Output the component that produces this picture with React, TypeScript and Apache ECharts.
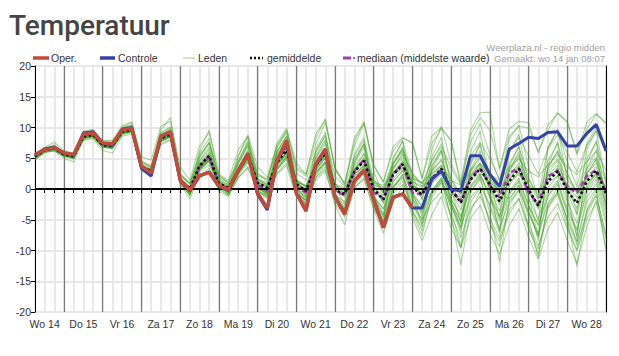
import React, { useEffect, useRef } from "react";
import * as echarts from "echarts";

// Day labels (label sits at 12:00 of each day); points every 6 hours from Wo 14 06:00
const days = ["Wo 14", "Do 15", "Vr 16", "Za 17", "Zo 18", "Ma 19", "Di 20", "Wo 21", "Do 22", "Vr 23", "Za 24", "Zo 25", "Ma 26", "Di 27", "Wo 28", "Do 29"];
const hours = ["06:00", "12:00", "18:00", "00:00"];
const yTicks = [-20, 20, 5]; // min, max, interval

const oper = [5.6, 6.4, 6.7, 5.9, 5.6, 8.9, 9.1, 7.5, 7.3, 9.6, 9.9, 3.7, 2.6, 8.6, 9.3, 1.5, -0.2, 2.2, 2.7, 0.5, -0.1, 3.0, 5.8, -0.7, -3.1, 4.6, 7.9, -0.6, -3.6, 4.0, 6.5, -1.3, -4.1, 1.3, 3.0, -1.8, -6.3, -1.4, -0.8, -3.1];

const controle = [5.5, 6.5, 6.8, 5.8, 5.5, 9.1, 9.3, 7.4, 7.1, 9.7, 10.0, 3.4, 2.1, 8.4, 9.2, 1.4, -0.3, 2.1, 2.8, 0.4, -0.2, 3.0, 5.7, -0.9, -3.4, 4.5, 7.6, -0.7, -3.5, 3.8, 6.3, -1.2, -4.0, 1.4, 3.0, -1.7, -6.2, -1.3, -0.8, -3.1, -3.1, 1.6, 2.9, -0.1, -0.3, 5.4, 5.4, 2.4, 0.4, 6.5, 7.4, 8.4, 8.2, 9.2, 9.3, 7.0, 7.0, 9.0, 10.5, 6.2];

const gemiddelde = [5.3, 6.3, 6.6, 5.6, 5.3, 8.5, 8.8, 7.1, 7.0, 9.3, 9.6, 3.6, 2.9, 8.2, 8.9, 1.5, 0.0, 3.8, 5.4, 0.9, 0.2, 3.0, 5.6, 1.0, 0.2, 4.3, 6.3, 0.8, -0.3, 3.8, 5.8, -0.2, -0.8, 2.8, 4.6, 0.0, -1.7, 2.3, 4.0, 0.2, -0.9, 1.6, 3.3, -0.1, -2.2, 1.5, 3.3, 0.7, -2.0, 1.2, 3.3, -0.1, -2.7, 1.2, 2.9, -0.3, -2.3, 1.2, 3.0, -0.8];

const mediaan = [5.4, 6.4, 6.7, 5.7, 5.4, 8.7, 9.0, 7.3, 7.1, 9.5, 9.8, 3.4, 2.5, 8.4, 9.0, 1.4, -0.1, 3.6, 5.3, 0.8, 0.0, 3.0, 5.7, 0.6, -0.3, 4.8, 6.6, 0.5, -0.6, 4.0, 6.1, -0.4, -1.0, 2.9, 4.8, -0.6, -1.5, 2.4, 4.1, -0.6, -0.9, 1.8, 3.1, -0.1, -2.0, 1.8, 3.3, 0.7, -1.4, 2.6, 3.4, -0.6, -2.4, 2.1, 2.9, 0.3, -0.6, 2.1, 3.1, -0.4];

const leden = [
  [5.5, 6.6, 7.0, 5.9, 5.6, 8.9, 9.4, 7.6, 7.5, 9.9, 10.4, 4.3, 3.5, 9.2, 10.1, 2.2, 0.9, 5.5, 7.4, 2.1, 1.2, 4.6, 7.8, 2.4, 1.6, 6.8, 9.6, 3.3, 2.1, 7.2, 10.8, 3.4, 0.9, 7.0, 10.6, 3.8, 1.2, 6.2, 8.2, 7.6, 1.6, 7.4, 9.8, 7.9, 1.2, 9.6, 12.4, 12.5, 3.2, 9.8, 11.0, 10.8, 5.8, 10.4, 12.3, 10.8, 5.6, 9.8, 12.1, 10.8],
  [4.7, 5.9, 6.2, 5.0, 4.4, 7.9, 8.2, 6.3, 5.8, 8.6, 8.9, 2.9, 2.2, 7.2, 7.9, 0.7, -1.6, 2.1, 3.4, -0.4, -1.2, 1.8, 3.6, -0.3, -1.0, 2.6, 4.2, -1.2, -2.4, 1.9, 3.2, -2.6, -5.8, 0.2, 1.8, -3.4, -7.2, -2.1, 0.4, -4.6, -8.4, -4.2, -1.2, -6.4, -9.6, -4.8, -2.6, -7.2, -10.6, -6.0, -3.2, -7.9, -11.4, -6.5, -3.8, -8.4, -12.1, -6.2, -1.8, -9.6],
  [5.1, 6.1, 6.4, 5.3, 4.9, 8.2, 8.6, 6.8, 6.6, 9.0, 9.3, 3.2, 2.5, 7.8, 8.5, 1.0, -1.1, 3.1, 4.6, 0.3, -0.6, 2.2, 4.4, -0.2, -1.3, 3.2, 5.0, -0.6, -2.3, 2.4, 4.4, -1.8, -4.6, 0.9, 3.0, -2.9, -6.3, 0.1, 2.4, -3.4, -6.8, -1.4, 1.2, -4.6, -12.3, -3.6, -0.4, -5.6, -8.4, -4.1, -1.5, -6.6, -9.8, -2.9, -0.4, -5.2, -9.1, -4.1, -1.1, -7.4],
  [5.4, 6.5, 7.2, 5.8, 5.4, 9.0, 9.6, 7.4, 7.2, 10.0, 10.8, 4.6, 3.6, 9.6, 11.6, 2.6, 0.8, 6.2, 9.6, 2.3, 0.9, 5.4, 8.8, 3.6, 1.9, 7.4, 9.9, 4.2, 2.4, 8.2, 11.4, 3.4, 0.6, 7.8, 10.9, 2.8, -0.9, 5.1, 7.8, 2.4, -1.8, 6.4, 10.2, 4.1, 0.8, 7.6, 10.6, 5.6, 1.2, 8.1, 10.4, 3.6, -1.4, 6.8, 9.6, 4.4, 0.4, 7.2, 10.1, 6.1],
  [5.2, 6.2, 6.5, 5.5, 5.2, 8.4, 8.7, 7.0, 6.9, 9.2, 9.5, 3.4, 2.7, 8.0, 8.6, 1.3, -0.3, 3.4, 4.9, 0.6, -0.3, 2.6, 5.0, 0.6, -0.4, 3.8, 5.8, 0.3, -1.1, 3.1, 5.0, -0.9, -2.1, 2.0, 3.8, -1.1, -3.3, 1.1, 3.1, -0.9, -2.8, 0.9, 2.4, -1.6, -4.4, 0.1, 2.1, -1.4, -5.2, -0.8, 1.4, -2.6, -5.9, -1.2, 0.8, -3.6, -6.8, -0.6, 1.6, -4.1],
  [5.4, 6.4, 6.8, 5.7, 5.5, 8.7, 9.0, 7.2, 7.2, 9.5, 9.8, 3.8, 3.1, 8.5, 9.2, 1.7, 0.3, 4.3, 6.0, 1.3, 0.6, 3.5, 6.1, 1.4, 0.7, 4.9, 6.9, 1.4, 0.4, 4.6, 6.7, 0.6, 0.0, 3.8, 5.6, 0.9, -0.6, 3.3, 5.1, 1.2, 0.1, 3.0, 4.6, 0.8, -0.8, 3.1, 5.0, 2.2, -0.4, 2.9, 5.2, 1.6, -1.0, 3.2, 4.9, 1.6, -0.4, 3.4, 5.2, 1.2],
  [5.0, 6.1, 6.9, 5.6, 5.1, 8.6, 8.9, 7.3, 6.7, 9.1, 9.4, 3.5, 3.0, 8.1, 8.7, 1.4, -0.4, 4.1, 5.8, 1.0, 0.2, 2.8, 5.2, 0.4, -0.7, 4.9, 7.3, 1.6, 0.4, 2.6, 4.3, -1.3, -3.1, 3.2, 5.9, 1.4, 0.3, 4.2, 6.6, 2.4, 0.9, 1.1, 2.8, -2.3, -5.4, 2.8, 5.4, 1.8, -0.6, -1.6, 0.6, -3.9, -7.6, 3.6, 6.1, 2.6, -0.8, 0.2, 2.6, -2.3],
  [5.5, 6.5, 6.6, 5.7, 5.4, 8.8, 9.2, 7.5, 7.4, 9.7, 10.0, 3.9, 3.1, 8.7, 9.5, 1.8, 0.4, 3.6, 5.2, 0.4, -0.4, 3.4, 6.4, 1.6, 0.8, 5.4, 8.0, 1.3, -0.6, 4.9, 7.4, 0.4, -1.4, 4.1, 6.8, 0.6, -2.4, 2.4, 4.4, 0.8, -0.9, 3.9, 6.3, 1.6, -1.4, 2.1, 4.0, -0.1, -3.6, 1.6, 3.9, -0.4, -3.3, 2.6, 4.6, 0.1, -3.2, 2.4, 4.8, -0.6],
  [4.8, 6.0, 6.3, 5.4, 5.0, 8.2, 8.5, 6.9, 6.8, 9.1, 9.3, 3.4, 2.8, 7.8, 8.4, 1.2, -0.6, 3.0, 4.4, 0.4, -0.2, 2.4, 4.6, 0.1, -0.8, 3.1, 4.9, -0.6, -1.8, 2.2, 4.0, -1.6, -3.4, 1.2, 3.0, -1.9, -4.6, 0.4, 2.0, -1.6, -3.9, -0.6, 1.0, -2.9, -6.1, -1.4, 0.4, -2.6, -6.4, -2.1, -0.2, -3.9, -7.2, -2.4, -0.6, -4.8, -8.6, -2.2, 0.1, -5.6],
  [5.6, 6.8, 7.6, 6.2, 5.8, 9.4, 9.7, 7.9, 7.9, 10.3, 10.9, 5.2, 4.7, 10.2, 11.0, 3.6, 1.4, 7.0, 9.2, 2.4, 1.4, 6.4, 8.6, 2.6, 1.2, 7.2, 9.4, 3.6, 2.4, 8.9, 11.3, 3.1, 0.9, 8.3, 10.9, 3.9, 1.1, 6.9, 8.4, 7.4, 1.8, 8.6, 10.0, 7.8, 0.6, 8.8, 11.6, 9.6, 3.4, 8.6, 10.2, 9.9, 6.1, 9.6, 12.4, 11.0, 5.9, 10.8, 12.3, 10.6],
  [5.0, 6.0, 6.2, 5.3, 5.2, 8.0, 8.3, 6.7, 6.6, 8.8, 9.2, 3.0, 2.3, 7.4, 8.1, 1.0, -1.0, 2.8, 3.9, -0.1, -0.9, 1.9, 3.4, -0.4, -1.4, 2.4, 3.8, -1.2, -2.6, 1.4, 2.9, -2.4, -4.3, 0.2, 1.6, -3.2, -5.6, -0.8, 0.8, -2.6, -4.9, -2.1, -0.4, -4.4, -7.9, -3.2, -1.2, -4.8, -7.9, -3.4, -1.6, -5.9, -9.2, -4.6, -2.4, -6.5, -10.1, -4.9, -2.2, -8.1],
  [5.3, 6.3, 6.7, 5.6, 5.3, 8.6, 8.9, 7.1, 7.1, 9.3, 9.7, 3.7, 2.9, 8.3, 9.0, 1.6, 0.1, 3.9, 5.6, 1.1, 0.3, 3.3, 5.9, 1.2, 0.4, 4.6, 6.6, 1.0, -0.1, 4.1, 6.1, 0.2, -0.6, 3.2, 5.1, 0.4, -1.1, 2.7, 4.6, 0.6, -0.4, 2.4, 3.9, 0.2, -1.6, 2.3, 4.2, 1.4, -1.1, 2.1, 4.3, 0.8, -1.7, 2.2, 3.9, 0.6, -1.4, 2.5, 4.2, 0.1],
  [5.1, 6.3, 6.6, 5.5, 5.0, 8.6, 8.9, 7.0, 6.8, 9.4, 9.7, 3.5, 2.7, 8.3, 9.2, 1.3, -0.7, 4.6, 6.8, 0.8, -0.9, 4.1, 6.9, 0.4, -1.2, 5.6, 7.9, 0.1, -2.4, 5.1, 7.8, -1.1, -3.6, 4.4, 7.2, -2.2, -5.4, 3.4, 5.9, -1.9, -5.1, 3.6, 6.4, -2.6, -7.2, 3.1, 6.2, -1.2, -6.6, 2.9, 6.1, -2.6, -8.4, 3.4, 6.3, -1.9, -7.6, 3.2, 6.4, -3.1],
  [5.4, 6.4, 6.6, 5.8, 5.7, 8.6, 8.8, 7.2, 7.3, 9.4, 9.6, 3.8, 3.2, 8.4, 8.8, 1.6, 0.2, 3.6, 5.1, 1.3, 0.8, 3.1, 5.3, 1.6, 1.0, 4.0, 5.6, 1.2, 0.6, 3.3, 5.0, 0.4, -0.2, 2.4, 3.8, 0.6, 0.2, 2.4, 3.4, 1.2, 0.4, 1.6, 2.6, 0.4, -0.6, 1.4, 2.6, 1.1, -0.2, 1.2, 2.4, 0.8, -0.4, 1.0, 2.1, 0.6, -0.2, 1.2, 2.3, 0.4],
  [5.2, 6.2, 6.4, 5.6, 5.3, 8.3, 8.6, 7.0, 6.9, 9.2, 9.4, 3.5, 2.8, 8.0, 8.7, 1.4, -0.2, 3.3, 4.8, 0.7, -0.1, 2.9, 5.2, 0.8, -0.2, 3.9, 6.0, 0.1, -1.4, 3.0, 5.1, -1.4, -3.9, 1.6, 3.6, -2.4, -6.1, -0.4, 1.4, -3.9, -7.6, -0.9, 1.6, -4.9, -9.6, -2.2, 0.2, -5.6, -9.4, -2.6, -0.1, -6.2, -10.6, -3.1, -0.8, -6.1, -9.9, -3.6, -0.9, -7.6],
  [5.3, 6.4, 6.7, 5.7, 5.4, 8.5, 8.9, 7.2, 7.0, 9.4, 9.8, 3.7, 3.0, 8.3, 9.0, 1.6, 0.2, 3.9, 5.3, 1.1, 0.4, 3.3, 5.4, 1.1, 0.3, 4.2, 6.0, 0.9, 0.0, 3.7, 5.5, 0.4, -0.4, 3.1, 5.0, 1.1, -0.1, 3.4, 5.6, 2.6, 0.4, 4.6, 6.9, 3.4, 0.6, 5.4, 7.6, 4.9, 1.6, 6.1, 8.4, 5.4, 2.4, 6.6, 8.8, 5.9, 2.8, 7.1, 9.4, 6.2],
  [5.7, 6.7, 7.1, 6.0, 5.6, 9.0, 9.4, 7.6, 7.6, 9.9, 10.4, 4.4, 3.8, 9.0, 10.0, 2.4, 0.9, 5.1, 7.6, 1.8, 0.6, 4.2, 7.4, 1.8, 0.5, 6.1, 8.6, 1.6, 0.1, 5.9, 8.6, 0.9, -1.1, 4.9, 7.4, 0.4, -2.2, 4.1, 6.4, 1.4, -1.6, 2.9, 4.9, -0.4, -3.4, 1.9, 4.1, 0.2, -2.6, 3.4, 5.6, 0.6, -3.1, 1.6, 3.4, -0.6, -4.2, 2.6, 4.9, -1.4],
  [4.9, 6.1, 6.4, 5.4, 5.1, 8.3, 8.6, 6.9, 6.7, 9.0, 9.3, 3.3, 2.6, 7.7, 8.4, 1.1, -0.9, 3.3, 5.6, 0.1, -1.1, 2.4, 4.8, -0.2, -1.6, 3.2, 5.4, -0.9, -2.6, 1.8, 3.6, -1.6, -4.1, 0.6, 2.6, -1.3, -3.2, 1.6, 3.6, -0.4, -3.0, -0.4, 1.4, -2.4, -5.1, 0.6, 2.4, -1.2, -4.6, -0.4, 1.8, -2.8, -5.9, -0.6, 1.4, -3.1, -6.6, -0.1, 2.1, -3.4],
  [5.3, 6.5, 6.9, 5.5, 5.1, 8.9, 9.3, 7.3, 7.0, 9.6, 10.1, 3.9, 3.0, 8.7, 9.8, 1.6, -0.1, 5.8, 8.2, 1.6, -0.4, 5.3, 8.4, 1.4, -0.9, 6.7, 9.1, 1.6, -1.2, 6.4, 9.2, 0.2, -2.4, 5.7, 8.4, -0.9, -4.2, 4.8, 7.8, -0.6, -4.4, 5.2, 8.4, 0.1, -5.6, 6.1, 9.4, 1.2, -4.8, 5.9, 8.9, 0.4, -5.4, 6.6, 9.8, 1.4, -4.1, 6.4, 9.6, 0.6],
  [5.1, 6.2, 6.5, 5.4, 5.0, 8.3, 8.6, 6.9, 6.6, 9.0, 9.4, 3.4, 2.7, 7.9, 8.6, 1.2, -0.6, 3.1, 4.7, 0.4, -0.4, 2.7, 4.9, 0.3, -0.6, 3.5, 5.4, -0.4, -1.9, 2.6, 4.4, -1.4, -3.6, 1.6, 3.4, -2.1, -5.1, 0.2, 1.9, -3.6, -6.2, -0.4, 1.9, -3.4, -9.4, -0.6, 1.9, -3.9, -11.8, -1.8, 0.6, -4.6, -11.2, -2.4, 0.2, -5.1, -12.6, -3.4, -0.2, -10.2],
  [5.4, 6.3, 6.5, 5.6, 5.3, 8.4, 8.7, 7.1, 7.1, 9.2, 9.5, 3.6, 3.0, 8.1, 8.8, 1.5, 0.0, 3.8, 5.4, 0.8, 0.1, 3.1, 5.6, 0.9, 0.1, 4.4, 6.5, 0.6, -0.6, 3.9, 5.9, -0.1, -1.2, 3.0, 4.9, -0.2, -2.0, 2.6, 4.4, 0.6, -0.8, 2.0, 3.6, -0.4, -2.4, 1.6, 3.6, 0.8, -2.1, 1.4, 3.6, -0.1, -2.8, 1.6, 3.4, -0.2, -2.1, 1.6, 3.6, -0.6],
  [5.6, 6.5, 6.8, 5.9, 5.8, 8.8, 9.1, 7.6, 7.8, 9.6, 10.0, 4.1, 3.4, 8.9, 9.6, 2.1, 0.9, 4.6, 6.4, 1.8, 1.1, 4.2, 7.1, 2.1, 1.6, 6.1, 8.6, 2.6, 1.4, 6.1, 8.8, 2.1, 0.4, 5.4, 7.9, 1.6, -0.6, 4.1, 6.2, 1.9, 0.9, 4.6, 7.4, 1.6, -0.8, 4.4, 7.1, 2.6, -0.9, 4.1, 6.8, 1.9, -1.6, 4.6, 7.4, 2.4, -0.6, 4.9, 7.6, 1.6],
  [5.2, 6.3, 6.6, 5.5, 5.2, 8.5, 8.8, 7.1, 6.9, 9.3, 9.6, 3.5, 2.8, 8.1, 8.8, 1.4, -0.3, 3.4, 5.0, 0.5, -0.4, 2.8, 5.1, 0.5, -0.5, 3.9, 5.9, 0.0, -1.4, 3.4, 5.4, -0.9, -2.6, 2.2, 4.1, -1.6, -4.1, 1.2, 3.0, -1.1, -3.6, 1.2, 3.1, -1.6, -4.6, 0.4, 2.4, -0.9, -4.4, 0.6, 2.8, -1.6, -4.9, 0.2, 2.2, -2.0, -5.6, 0.6, 2.6, -2.6],
  [5.0, 6.2, 6.8, 5.7, 5.2, 8.7, 9.2, 7.0, 6.7, 9.6, 10.1, 3.4, 2.6, 8.6, 9.5, 1.4, -0.9, 5.1, 7.6, 0.9, -0.8, 4.6, 7.6, 0.6, -1.0, 5.9, 8.4, 0.4, -1.8, 5.4, 8.1, -0.6, -3.1, 4.6, 7.4, -1.2, -4.6, 3.9, 6.9, -1.1, -5.9, 3.1, 6.1, -1.9, -6.4, 3.9, 7.4, -0.4, -7.1, 3.6, 7.1, -1.2, -7.6, 3.9, 7.6, -0.9, -7.9, 4.1, 7.9, -2.1],
  [5.4, 6.4, 6.7, 5.8, 5.5, 8.6, 8.9, 7.3, 7.2, 9.4, 9.7, 3.7, 3.0, 8.3, 9.0, 1.6, 0.2, 3.7, 5.2, 1.0, 0.4, 3.2, 5.5, 1.1, 0.5, 4.1, 5.9, 1.1, 0.5, 3.6, 5.4, 0.8, 0.2, 2.9, 4.4, 1.0, 0.6, 2.6, 3.9, 1.6, 1.1, 2.6, 3.8, 1.4, 0.6, 2.9, 4.2, 2.4, 1.4, 3.4, 4.9, 2.9, 2.0, 3.9, 5.6, 3.6, 2.4, 4.4, 6.1, 3.1],
  [5.1, 6.1, 6.4, 5.4, 5.1, 8.2, 8.5, 6.8, 6.8, 9.1, 9.3, 3.3, 2.6, 7.8, 8.5, 1.2, -0.5, 3.2, 4.6, 0.2, -0.6, 2.6, 4.8, 0.1, -0.7, 3.4, 5.2, -0.6, -1.9, 2.8, 4.4, -1.6, -3.4, 1.1, 2.8, -2.4, -5.4, 0.4, 2.4, -2.6, -5.6, -0.2, 1.8, -2.6, -6.6, -0.4, 1.6, -2.9, -7.1, -0.9, 1.2, -3.6, -7.9, -1.1, 1.1, -3.9, -8.6, -1.4, 0.9, -4.9],
];

const categories = Array.from({ length: 60 }, (_, i) => `${days[Math.floor((i + 1) / 4)]} ${hours[i % 4]}`);

const RED = "#c04a3c";
const BLUE = "#3442a6";
const MEMBER = "rgba(62,158,32,0.42)";
const PURPLE = "#a23db4";
const FONT = "'Liberation Sans', Arial, sans-serif";

export default function App() {
  const ref = useRef<HTMLDivElement>(null);
  useEffect(() => {
    if (!ref.current) return;
    const chart = echarts.init(ref.current, null, { renderer: "svg" });
    const memberSeries = leden.map((d) => ({
      name: "Leden",
      type: "line",
      data: d,
      symbol: "none",
      silent: true,
      z: 2,
      lineStyle: { color: MEMBER, width: 1.1 },
    }));
    const legendText = (x: number, text: string) => ({
      type: "text",
      x,
      y: 58,
      style: { text, font: `10.5px ${FONT}`, fill: "#333", verticalAlign: "middle" },
    });
    chart.setOption({
      animation: false,
      grid: { left: 35, right: 13, top: 66, bottom: 44 },
      xAxis: [
        {
          type: "category",
          data: categories,
          boundaryGap: false,
          position: "bottom",
          axisLine: { lineStyle: { color: "#000", width: 1 } },
          axisTick: { show: true, interval: 0, length: 4, lineStyle: { color: "#000" } },
          axisLabel: {
            interval: (i: number) => i % 4 === 1,
            formatter: (v: string) => v.split(" ").slice(0, 2).join(" "),
            color: "#333",
            fontSize: 10.5,
            fontFamily: FONT,
            margin: 6,
          },
          splitLine: { show: true, interval: 0, lineStyle: { color: "#e8e8e8", width: 2 } },
        },
        {
          type: "category",
          data: categories,
          boundaryGap: false,
          position: "top",
          axisLine: { lineStyle: { color: "#000", width: 1 } },
          axisTick: { show: true, inside: true, interval: 0, length: 4, lineStyle: { color: "#000" } },
          axisLabel: { show: false },
          splitLine: { show: true, interval: (i: number) => i % 4 === 3, lineStyle: { color: "#7a7a7a", width: 1.2 } },
        },
      ],
      yAxis: [
        {
          type: "value",
          min: yTicks[0],
          max: yTicks[1],
          interval: yTicks[2],
          axisLine: { show: true, lineStyle: { color: "#000", width: 1 } },
          axisTick: { show: true, length: 4, lineStyle: { color: "#000" } },
          axisLabel: { color: "#333", fontSize: 10.5, fontFamily: FONT, margin: 4 },
          splitLine: { show: true, lineStyle: { color: "#e8e8e8", width: 2 } },
        },
        {
          type: "value",
          min: yTicks[0],
          max: yTicks[1],
          interval: yTicks[2],
          position: "right",
          axisLine: { show: true, lineStyle: { color: "#000", width: 1 } },
          axisTick: { show: false },
          axisLabel: { show: false },
          splitLine: { show: false },
        },
      ],
      series: [
        ...memberSeries,
        {
          name: "mediaan (middelste waarde)",
          type: "line",
          data: mediaan,
          symbol: "none",
          silent: true,
          z: 3,
          lineStyle: { color: PURPLE, width: 2.5, type: [5, 3] },
        },
        {
          name: "gemiddelde",
          type: "line",
          data: gemiddelde,
          symbol: "none",
          silent: true,
          z: 4,
          lineStyle: { color: "#111", width: 2.5, type: [2.5, 2.5] },
          markLine: {
            silent: true,
            symbol: "none",
            label: { show: false },
            lineStyle: { color: "#000", width: 2, type: "solid" },
            data: [{ yAxis: 0 }],
          },
        },
        {
          name: "Controle",
          type: "line",
          data: controle,
          symbol: "none",
          silent: true,
          z: 5,
          lineStyle: { color: BLUE, width: 3 },
        },
        {
          name: "Oper.",
          type: "line",
          data: oper,
          symbol: "none",
          silent: true,
          z: 6,
          lineStyle: { color: RED, width: 3.5 },
        },
      ],
      graphic: [
        {
          type: "text",
          x: 9,
          y: 25,
          style: { text: "Temperatuur", font: "500 28px Roboto, sans-serif", fill: "#444", verticalAlign: "middle" },
        },
        { type: "line", shape: { x1: 33, y1: 58, x2: 49, y2: 58 }, style: { stroke: RED, lineWidth: 3.5 } },
        legendText(51, "Oper."),
        { type: "line", shape: { x1: 100, y1: 58, x2: 115, y2: 58 }, style: { stroke: BLUE, lineWidth: 3.5 } },
        legendText(118, "Controle"),
        { type: "line", shape: { x1: 183, y1: 58, x2: 195, y2: 58 }, style: { stroke: "rgba(62,158,32,0.5)", lineWidth: 1 } },
        legendText(198, "Leden"),
        { type: "line", shape: { x1: 250, y1: 58, x2: 263, y2: 58 }, style: { stroke: "#111", lineWidth: 2.5, lineDash: [2, 2] } },
        legendText(267, "gemiddelde"),
        { type: "line", shape: { x1: 343, y1: 58, x2: 351, y2: 58 }, style: { stroke: PURPLE, lineWidth: 3 } },
        { type: "circle", shape: { cx: 354, cy: 58, r: 1 }, style: { fill: PURPLE } },
        legendText(357, "mediaan (middelste waarde)"),
        {
          type: "text",
          x: 605,
          y: 47,
          style: { text: "Weerplaza.nl - regio midden", font: `9.5px ${FONT}`, fill: "#a0a0a0", align: "right", verticalAlign: "middle" },
        },
        {
          type: "text",
          x: 605,
          y: 58,
          style: { text: "Gemaakt: wo 14 jan 08:07", font: `9.5px ${FONT}`, fill: "#a0a0a0", align: "right", verticalAlign: "middle" },
        },
      ],
    });
    return () => chart.dispose();
  }, []);
  return <div ref={ref} style={{ position: "fixed", left: 0, top: 0, width: 619, height: 356, background: "#fff" }} />;
}
